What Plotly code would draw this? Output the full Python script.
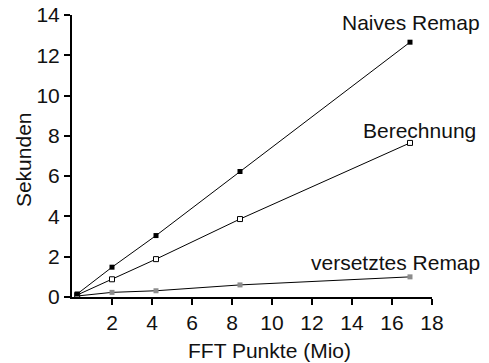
import plotly.graph_objects as go

fft_punkte = [0.26, 2.0, 4.2, 8.4, 16.9]
naives_remap = [0.15, 1.48, 3.05, 6.23, 12.65]
berechnung = [0.1, 0.88, 1.88, 3.87, 7.65]
versetztes_remap = [0.05, 0.23, 0.31, 0.6, 1.0]

x_ticks = [2, 4, 6, 8, 10, 12, 14, 16, 18]
y_ticks = [0, 2, 4, 6, 8, 10, 12, 14]

x_title = "FFT Punkte (Mio)"
y_title = "Sekunden"

FONT = "Liberation Sans, Arial, sans-serif"
FS = 21
TXT = dict(family=FONT, size=FS, color="#111")

fig = go.Figure()
fig.add_trace(go.Scatter(x=fft_punkte, y=versetztes_remap, mode="lines+markers",
                         line=dict(color="black", width=1),
                         marker=dict(symbol="square", size=5, color="#8c8c8c",
                                     line=dict(width=0)),
                         cliponaxis=False, showlegend=False))
fig.add_trace(go.Scatter(x=fft_punkte, y=berechnung, mode="lines+markers",
                         line=dict(color="black", width=1),
                         marker=dict(symbol="square", size=5, color="white",
                                     line=dict(color="black", width=1)),
                         cliponaxis=False, showlegend=False))
fig.add_trace(go.Scatter(x=fft_punkte, y=naives_remap, mode="lines+markers",
                         line=dict(color="black", width=1),
                         marker=dict(symbol="square", size=5, color="black",
                                     line=dict(width=0)),
                         cliponaxis=False, showlegend=False))

labels = [("Naives Remap", 1.139, 0.972),
          ("Berechnung", 1.128, 0.592),
          ("versetztes Remap", 1.139, 0.124)]
for text, ax, ay in labels:
    fig.add_annotation(x=ax, y=ay, xref="paper", yref="paper", text=text, showarrow=False,
                       xanchor="right", yanchor="middle", font=TXT)

# axis titles
fig.add_annotation(x=0.549, y=-0.188, xref="paper", yref="paper", text=x_title,
                   showarrow=False, xanchor="center", yanchor="middle", font=TXT)
fig.add_annotation(x=-0.133, y=0.486, xref="paper", yref="paper", text=y_title,
                   showarrow=False, xanchor="center", yanchor="middle", textangle=-90,
                   font=TXT)

fig.update_layout(
    width=489, height=363,
    margin=dict(l=72, r=57, t=15, b=66, autoexpand=False),
    paper_bgcolor="white", plot_bgcolor="white",
    font=TXT,
)
fig.update_xaxes(range=[0, 18], tickvals=x_ticks, ticks="outside", ticklen=6, tickwidth=2,
                 tickcolor="black", showline=True, linecolor="black", linewidth=2,
                 showgrid=False, zeroline=False, tickfont=TXT, automargin=False)
fig.update_yaxes(range=[0, 14], tickvals=y_ticks, ticks="outside", ticklen=6, tickwidth=2,
                 tickcolor="black", showline=True, linecolor="black", linewidth=2,
                 showgrid=False, zeroline=False, tickfont=TXT, automargin=False)

fig.write_html("out.html", config={"displayModeBar": False},
               post_script="document.body.style.margin='0';")
